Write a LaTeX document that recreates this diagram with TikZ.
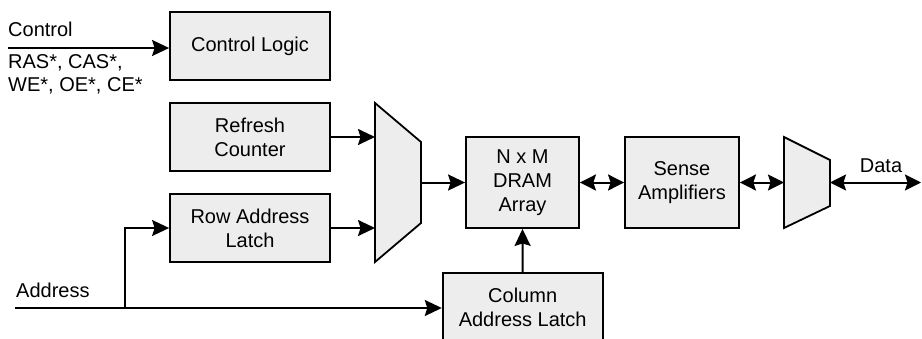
\documentclass[tikz,border=0pt]{standalone}
\usepackage{fontspec}
\setmainfont{Liberation Sans}
\usetikzlibrary{positioning,arrows.meta,calc}

\begin{document}
\begin{tikzpicture}[
    x=1pt, y=-1pt,
    % Styles
    block/.style={
        draw=black, line width=1.8pt, fill=gray!14,
        minimum width=#1, minimum height=68pt, inner sep=0pt,
        font=\fontsize{20}{24}\selectfont, align=center,
    },
    block/.default={160pt},
    mux/.style={draw=black, line width=1.8pt, fill=gray!14, line join=miter},
    arr/.style={-{Stealth[length=17pt,width=16pt,inset=2.5pt]}, line width=2pt},
    biarr/.style={{Stealth[length=16pt,width=16pt,inset=2.5pt]}-{Stealth[length=16pt,width=16pt,inset=2.5pt]}, line width=2pt},
    lbl/.style={font=\fontsize{20}{23}\selectfont, inner sep=0pt, align=left},
]
\useasboundingbox (0,0) rectangle (922,338);

% ================================================================
% LEFT COLUMN: CONTROL, REFRESH, ROW LATCH
% ================================================================
\node[block] (ctrllogic) at (250, 46) {Control Logic};
\node[block] (refresh) at (250, 137) {Refresh\\Counter};
\node[block] (rowlatch) at (250, 228) {Row Address\\Latch};

% ================================================================
% ROW MUX
% ================================================================
\draw[mux] (375,103) -- (421,142) -- (421,223) -- (375,262) -- cycle;
\coordinate (rowmux-in) at (375, 182.5);
\coordinate (rowmux-out) at (421, 182.5);

% ================================================================
% ARRAY, SENSE AMPS, COLUMN LATCH
% ================================================================
\node[block=113pt, minimum height=91pt] (dram) at (522.5, 182.5) {N x M\\DRAM\\Array};
\node[block=114pt, minimum height=91pt] (senseamp) at (682, 182.5) {Sense\\Amplifiers};
\node[block] (collatch) at (522.7, 307) {Column\\Address Latch};

% ================================================================
% DATA MUX
% ================================================================
\draw[mux] (784,137) -- (830,160) -- (830,206) -- (784,228) -- cycle;
\coordinate (datamux-in) at (784, 182.5);
\coordinate (datamux-out) at (830, 182.5);

% ================================================================
% EXTERNAL SIGNALS
% ================================================================
\coordinate (ctrlin) at (8, 48);
\coordinate (addrin) at (15, 308);
\coordinate (addrsplit) at (125, 308);
\coordinate (dataout) at (921, 182.5);

\node[lbl, anchor=base west] (ctrllbl) at (8, 36) {Control};
\node[lbl, anchor=north west] (ctrlsig) at (8, 54) {RAS*, CAS*,\\WE*, OE*, CE*};
\node[lbl, anchor=base west] (addrlbl) at (16, 297) {Address};
\node[lbl, anchor=base] (datalbl) at (881, 172) {Data};

% ================================================================
% ARROWS
% ================================================================
\draw[arr] (ctrlin) -- (ctrllogic.west |- ctrlin);
\draw[arr] (refresh.east) -- (refresh.east -| rowmux-in);
\draw[arr] (rowlatch.east) -- (rowlatch.east -| rowmux-in);
\draw[arr] (rowmux-out) -- (dram.west);
\draw[biarr] (dram.east) -- (senseamp.west);
\draw[biarr] (senseamp.east) -- (datamux-in);
\draw[biarr] (datamux-out) -- (dataout);

% Address fan-out
\draw[arr] (addrin) -- (collatch.west |- addrin);
\draw[arr] (addrsplit) |- (rowlatch.west);
\draw[arr] (collatch.north) -- (dram.south);

\end{tikzpicture}
\end{document}
